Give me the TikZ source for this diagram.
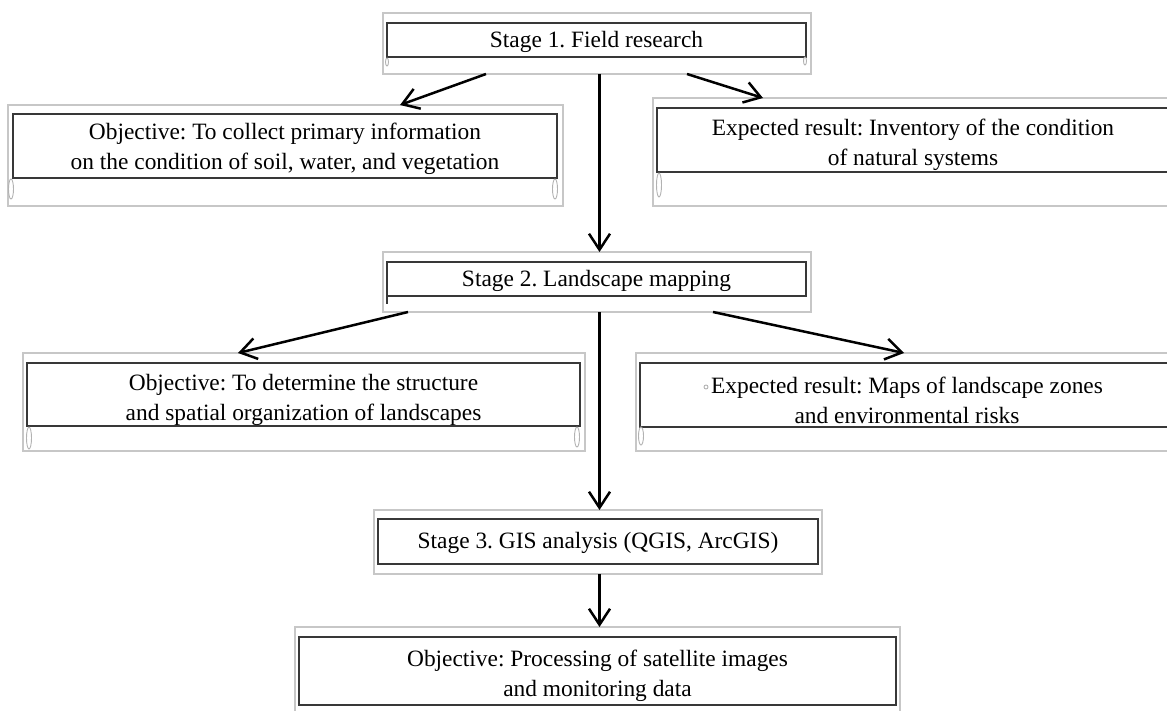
\documentclass[tikz,border=0pt]{standalone}
\usepackage{fontspec}
\setmainfont{Liberation Serif}
\usetikzlibrary{arrows.meta,calc}
\newcommand{\topstrut}[1]{\rule{0pt}{#1}}
\begin{document}
\frenchspacing
\begin{tikzpicture}[x=1pt,y=-1pt,
  outerbox/.style={draw=black!22, line width=1.3pt, rectangle, inner sep=0pt, outer sep=0pt, anchor=north west},
  innerbox/.style={draw=black!78, line width=2.3pt, rectangle, inner sep=0pt, outer sep=0pt, anchor=north west,
    align=center, font=\fontsize{23.4}{29.5}\selectfont},
  arr/.style={-{Straight Barb[length=16pt,width=21pt]}, line width=2.5pt, black},
  curlmark/.style={draw=black!30, line width=0.9pt}
]
\useasboundingbox (0,0) rectangle (1167,711);
% Stage 1
\node[outerbox, minimum width=428pt, minimum height=61pt] (s1o) at (383,13) {};
\node[innerbox, minimum width=419pt, minimum height=34pt] (s1i) at (387,23) {\topstrut{21pt}Stage 1. Field research};
% Objective 1
\node[outerbox, minimum width=555pt, minimum height=101pt] (l1o) at (8,105) {};
\node[innerbox, minimum width=544pt, minimum height=64pt] (l1i) at (13,114) {\topstrut{22pt}Objective: To collect primary information\\on the condition of soil, water, and vegetation};
% Result 1
\node[outerbox, minimum width=530pt, minimum height=108pt] (r1o) at (653,98) {};
\node[innerbox, minimum width=512pt, minimum height=64pt] (r1i) at (657,108) {\topstrut{26pt}Expected result: Inventory of the condition\\of natural systems};
% Stage 2
\node[outerbox, minimum width=428pt, minimum height=60pt] (s2o) at (383,252) {};
\node[innerbox, minimum width=419pt, minimum height=34pt] (s2i) at (387,262) {\topstrut{21pt}Stage 2. Landscape mapping};
% Objective 2
\node[outerbox, minimum width=562pt, minimum height=98pt] (l2o) at (23,353) {};
\node[innerbox, minimum width=553pt, minimum height=63pt] (l2i) at (27,363) {\topstrut{27pt}Objective: To determine the structure\\and spatial organization of landscapes};
% Result 2
\node[outerbox, minimum width=545pt, minimum height=98pt] (r2o) at (636,353) {};
\node[innerbox, minimum width=534pt, minimum height=64pt] (r2i) at (640,363) {\topstrut{27pt}Expected result: Maps of landscape zones\\and environmental risks};
% Stage 3
\node[outerbox, minimum width=448pt, minimum height=64pt] (s3o) at (374,510) {};
\node[innerbox, minimum width=440pt, minimum height=45pt] (s3i) at (378,519) {\topstrut{19pt}Stage 3. GIS analysis (QGIS, ArcGIS)};
% Objective 3
\node[outerbox, minimum width=605pt, minimum height=100pt] (bo) at (295,627) {};
\node[innerbox, minimum width=597pt, minimum height=68pt] (bi) at (299,637) {\topstrut{26pt}Objective: Processing of satellite images\\and monitoring data};
% small marks
\draw[curlmark] (387,62) ellipse (1.5 and 4);
\draw[curlmark] (805,61) ellipse (1.5 and 4);
\draw[curlmark] (11,189) ellipse (2.5 and 10);
\draw[curlmark] (555,189) ellipse (2.5 and 10);
\draw[curlmark] (659,185) ellipse (2.5 and 12);
\draw[curlmark] (29,438) ellipse (2.5 and 11);
\draw[curlmark] (577,437) ellipse (2.5 and 10);
\draw[curlmark] (641,436) ellipse (2.5 and 9);
\draw[curlmark] (706,387) circle (2);
\draw[black!78, line width=2pt] (s2i.south west) -- ++(0,8);
% connectors
\coordinate (v) at (599.5,0);
\draw[arr] ($(s1o.south west)+(103,0)$) -- ($(l1o.north west)+(392,0)$);
\draw[arr] ($(s1o.south west)+(304,0)$) -- ($(r1o.north west)+(110,0)$);
\draw[arr] (s1o.south -| v) -- (s2o.north -| v);
\draw[arr] ($(s2o.south west)+(25,0)$) -- ($(l2o.north west)+(215,0)$);
\draw[arr] ($(s2o.south west)+(330,0)$) -- ($(r2o.north west)+(268,0)$);
\draw[arr] (s2o.south -| v) -- (s3o.north -| v);
\draw[arr] (s3o.south -| v) -- (bo.north -| v);
\end{tikzpicture}
\end{document}
